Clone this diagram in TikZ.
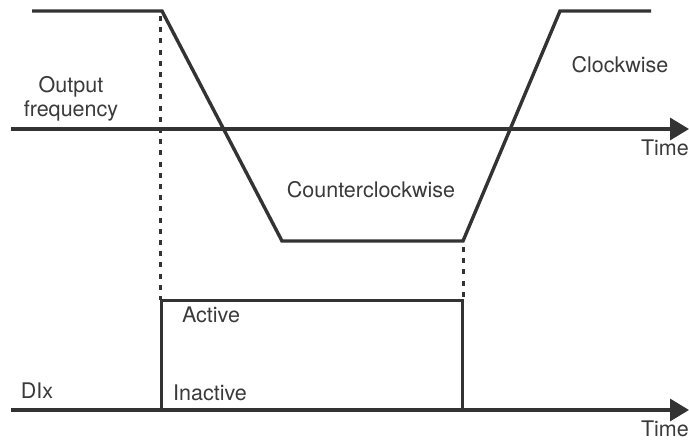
\documentclass[tikz,border=0pt]{standalone}
\usepackage{fontspec}
\setmainfont{TeX Gyre Heros}
\usetikzlibrary{arrows.meta}
\definecolor{ink}{HTML}{333333}
\definecolor{txt}{HTML}{3A3A3A}
\begin{document}
\begin{tikzpicture}[x=1pt,y=-1pt,
  sig/.style={draw=ink,line width=3.4pt,line join=miter},
  axis/.style={draw=ink,line width=3.4pt,-{Triangle[length=19pt,width=22pt]}},
  dots/.style={draw=ink,line width=3pt,dash pattern=on 5pt off 6.2pt},
  lbl/.style={text=txt,inner sep=0pt,font=\fontsize{21.5}{25}\selectfont,anchor=base}]
\useasboundingbox (0,0) rectangle (689,444);
% key points
\coordinate (f0) at (32,11);
\coordinate (f1) at (162,11);
\coordinate (f2) at (282,241);
\coordinate (f3) at (463,241);
\coordinate (f4) at (560,11);
\coordinate (f5) at (651,11);
\coordinate (a1s) at (11,129);
\coordinate (a1e) at (689,129);
\coordinate (a2s) at (11,410);
\coordinate (a2e) at (689,410);
\coordinate (p1) at (161,410);
\coordinate (p2) at (161,300);
\coordinate (p3) at (462,300);
\coordinate (p4) at (462,410);
\coordinate (d1) at (160,16);
\coordinate (d2) at (160,300);
\coordinate (d3) at (463,247);
\coordinate (d4) at (463,297);
% dotted guides
\draw[dots] (d1) -- (d2);
\draw[dots] (d3) -- (d4);
% axes
\draw[axis] (a1s) -- (a1e);
\draw[axis] (a2s) -- (a2e);
% output frequency curve
\draw[sig] (f0) -- (f1) -- (f2) -- (f3) -- (f4) -- (f5);
% DIx pulse
\draw[sig,line width=3pt] (p1) -- (p2) -- (p3) -- (p4);
% labels
\node[lbl] (out1) at (71,93) {Output};
\node[lbl] (out2) at (71,117) {frequency};
\node[lbl] (cw) at (620,73) {Clockwise};
\node[lbl] (ccw) at (371,197) {Counterclockwise};
\node[lbl,anchor=base east] (t1) at (689,156) {Time};
\node[lbl,anchor=base east] (t2) at (689,436) {Time};
\node[lbl] (dix) at (37,398) {DIx};
\node[lbl] (act) at (211,322) {Active};
\node[lbl] (inact) at (210,400) {Inactive};
\end{tikzpicture}
\end{document}
